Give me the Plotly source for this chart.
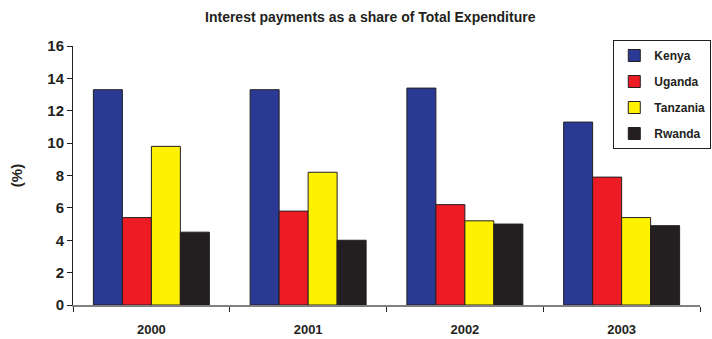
import plotly.graph_objects as go

years = ["2000", "2001", "2002", "2003"]
kenya = [13.3, 13.3, 13.4, 11.3]
uganda = [5.4, 5.8, 6.2, 7.9]
tanzania = [9.8, 8.2, 5.2, 5.4]
rwanda = [4.5, 4.0, 5.0, 4.9]

series = [
    ("Kenya", kenya, "#2a3994"),
    ("Uganda", uganda, "#ed1c24"),
    ("Tanzania", tanzania, "#fff200"),
    ("Rwanda", rwanda, "#231f20"),
]

font = "Liberation Sans, Arial, sans-serif"

fig = go.Figure()
for name, vals, col in series:
    fig.add_trace(go.Bar(
        x=years, y=vals, name="<b>" + name + "</b>", legendgroup=name,
        marker=dict(color=col, line=dict(color="#231f20", width=1)),
    ))

fig.update_layout(
    width=712, height=339,
    margin=dict(l=73, r=12, t=46, b=34, autoexpand=False),
    paper_bgcolor="white", plot_bgcolor="white",
    barmode="group", bargap=0.26, bargroupgap=0,
    title=dict(text="<b>Interest payments as a share of Total Expenditure</b>",
               x=0.52, xanchor="center", xref="container",
               y=1 - 17 / 339, yanchor="middle", yref="container",
               font=dict(family=font, size=14, color="#231f20")),
    font=dict(family=font, color="#231f20"),
    legend=dict(x=0.999, xanchor="right", xref="container",
                y=1 - 40 / 339, yanchor="top", yref="container",
                bordercolor="#231f20", borderwidth=1, bgcolor="white",
                font=dict(family=font, size=12, color="#231f20"),
                tracegroupgap=7, itemwidth=30),
    showlegend=True,
)
fig.update_xaxes(
    type="category", tickson="boundaries", ticks="outside", ticklen=5,
    tickcolor="#231f20", showline=True, linecolor="#808080", linewidth=1.5,
    tickfont=dict(family=font, size=13, color="#231f20"),
    showgrid=False, tickprefix="<b>", ticksuffix="</b>", automargin=False,
    ticklabelstandoff=12,
)
fig.update_yaxes(
    range=[0, 16], dtick=2, ticks="outside", ticklen=5, tickcolor="#231f20",
    showline=True, linecolor="#231f20", linewidth=1, showgrid=False, zeroline=False,
    tickfont=dict(family=font, size=15, color="#231f20"),
    tickprefix="<b>", ticksuffix="</b>", automargin=False,
    title=dict(text="<b>(%)</b>", font=dict(family=font, size=15, color="#231f20"), standoff=21),
)

fig.write_html("out.html", config={"displayModeBar": False},
               post_script="document.body.style.margin='0';")
